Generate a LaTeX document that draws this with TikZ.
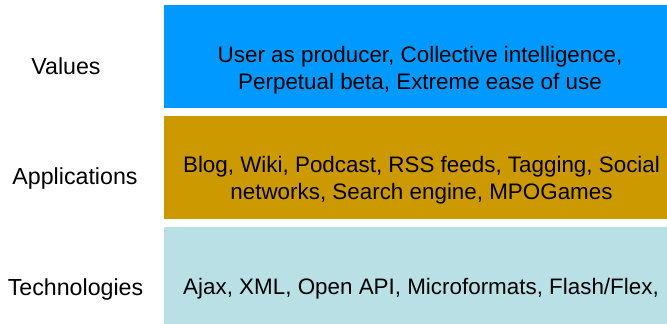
\documentclass[tikz,border=0pt]{standalone}
\usepackage{fontspec}
\setmainfont{Liberation Sans}
\definecolor{valblue}{RGB}{0,153,255}
\definecolor{appgold}{RGB}{204,153,0}
\definecolor{techcyan}{RGB}{185,224,228}
\begin{document}
\begin{tikzpicture}[x=1pt,y=-1pt,
  bandtext/.style={align=center,inner sep=0pt,font=\fontsize{22.4}{27}\selectfont,text=black},
  layerlabel/.style={inner sep=0pt,font=\fontsize{23.2}{27}\selectfont,text=black}]
\useasboundingbox (0,0) rectangle (667,324);
% layer bands
\fill[valblue] (164,5) rectangle (667,108);
\fill[appgold] (164,116) rectangle (667,219);
\fill[techcyan] (164,227) rectangle (667,324);
% band contents
\node[bandtext] (vals) at (420,70.5) {User as producer, Collective intelligence,\\Perpetual beta, Extreme ease of use};
\node[bandtext] (apps) at (421.5,180.5) {Blog, Wiki, Podcast, RSS feeds, Tagging, Social\\networks, Search engine, MPOGames};
\node[bandtext] (techs) at (421,289) {Ajax, XML, Open API, Microformats, Flash/Flex,};
% layer names
\node[layerlabel] (lv) at (66,66.5) {Values};
\node[layerlabel] (la) at (75,179) {Applications};
\node[layerlabel] (lt) at (75.5,289.5) {Technologies};
\end{tikzpicture}
\end{document}
